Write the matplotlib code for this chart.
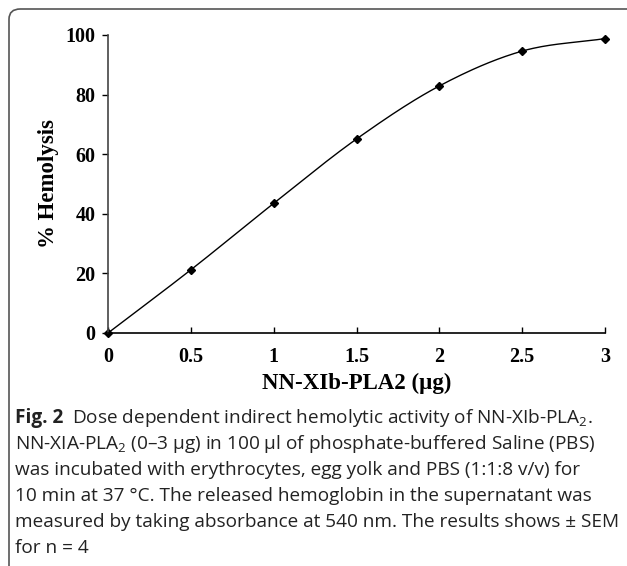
import numpy as np
import matplotlib
matplotlib.use("Agg")
import matplotlib.pyplot as plt
from matplotlib.patches import FancyBboxPatch

dose = [0, 0.5, 1, 1.5, 2, 2.5, 3]
hemolysis = [0, 21.2, 43.5, 65.1, 82.9, 94.6, 98.8]
xticks = [0, 0.5, 1, 1.5, 2, 2.5, 3]
xticklabels = ["0", "0.5", "1", "1.5", "2", "2.5", "3"]
yticks = [0, 20, 40, 60, 80, 100]

cap_font = "Open Sans"
plt.rcParams["mathtext.fontset"] = "custom"
plt.rcParams["mathtext.rm"] = cap_font
plt.rcParams["mathtext.it"] = cap_font
plt.rcParams["mathtext.bf"] = cap_font + ":bold"


def catmull_rom(x, y, n=30):
    x = np.asarray(x, float); y = np.asarray(y, float)
    px = np.concatenate([[2 * x[0] - x[1]], x, [2 * x[-1] - x[-2]]])
    py = np.concatenate([[2 * y[0] - y[1]], y, [2 * y[-1] - y[-2]]])
    ox, oy = [], []
    for i in range(1, len(px) - 2):
        t = np.linspace(0, 1, n, endpoint=False)
        for arr, out in ((px, ox), (py, oy)):
            p0, p1, p2, p3 = arr[i - 1], arr[i], arr[i + 1], arr[i + 2]
            out.extend(0.5 * ((2 * p1) + (-p0 + p2) * t + (2 * p0 - 5 * p1 + 4 * p2 - p3) * t ** 2
                              + (-p0 + 3 * p1 - 3 * p2 + p3) * t ** 3))
    ox.append(x[-1]); oy.append(y[-1])
    return np.array(ox), np.array(oy)


fig = plt.figure(figsize=(6.27, 5.66), dpi=100)

# frame
frame = FancyBboxPatch((9 / 627, -0.05), 1.1, 1.05 - 9 / 566,
                       boxstyle="round,pad=0,rounding_size=0.018",
                       transform=fig.transFigure, facecolor="none",
                       edgecolor="#555555", linewidth=1.2)
fig.patches.append(frame)

ax = fig.add_axes([108 / 627, 1 - 333 / 566, (605 - 108) / 627, (333 - 35) / 566])
sx, sy = catmull_rom(dose, hemolysis)
ax.plot(sx, sy, color="black", linewidth=1.0, clip_on=False)
ax.plot(dose, hemolysis, linestyle="none", marker="D", markersize=4.5, color="black", clip_on=False)

ax.set_xlim(0, 3)
ax.set_ylim(0, 100)
ax.spines["top"].set_visible(False)
ax.spines["right"].set_visible(False)
for s in ("left", "bottom"):
    ax.spines[s].set_linewidth(1.2)
    ax.spines[s].set_color("black")
ax.spines["left"].set_color("#444444")

serif = "Liberation Serif"
ax.set_xticks(xticks)
ax.set_xticklabels(xticklabels, fontfamily=serif, fontweight="bold", fontsize=14.5)
ax.set_yticks(yticks)
ax.set_yticklabels([str(v) for v in yticks], fontfamily=serif, fontweight="bold", fontsize=14.5)
ax.tick_params(axis="x", direction="in", length=4, width=1, pad=10)
ax.tick_params(axis="y", direction="out", length=4, width=1, pad=5)
ax.set_xlabel("NN-XIb-PLA2 (µg)", fontfamily=serif, fontweight="bold", fontsize=16.5, labelpad=4)
ax.set_ylabel("% Hemolysis", fontfamily=serif, fontweight="bold", fontsize=16.5, labelpad=5)

# caption
fs = 13.7
col = "#222222"
x0 = 15 / 627
lines_y = [418, 444, 470, 496, 522, 548]
t0 = fig.text(x0, 1 - lines_y[0] / 566, "Fig. 2", fontfamily=cap_font, fontweight="bold",
              fontsize=fs, va="center", color=col)
fig.canvas.draw()
bb = t0.get_window_extent(fig.canvas.get_renderer())
x1 = (bb.x1 + 9) / fig.bbox.width
fig.text(x1, 1 - lines_y[0] / 566,
         "Dose dependent indirect hemolytic activity of NN-XIb-PLA$_{2}$.",
         fontfamily=cap_font, fontsize=fs, va="center", color=col)
rest = [
    "NN-XIA-PLA$_{2}$ (0–3 µg) in 100 µl of phosphate-buffered Saline (PBS)",
    "was incubated with erythrocytes, egg yolk and PBS (1:1:8 v/v) for",
    "10 min at 37 °C. The released hemoglobin in the supernatant was",
    "measured by taking absorbance at 540 nm. The results shows ± SEM",
    "for n = 4",
]
for yy, s in zip(lines_y[1:], rest):
    fig.text(x0, 1 - yy / 566, s, fontfamily=cap_font, fontsize=fs, va="center", color=col)

fig.savefig("out.png", dpi=100)
